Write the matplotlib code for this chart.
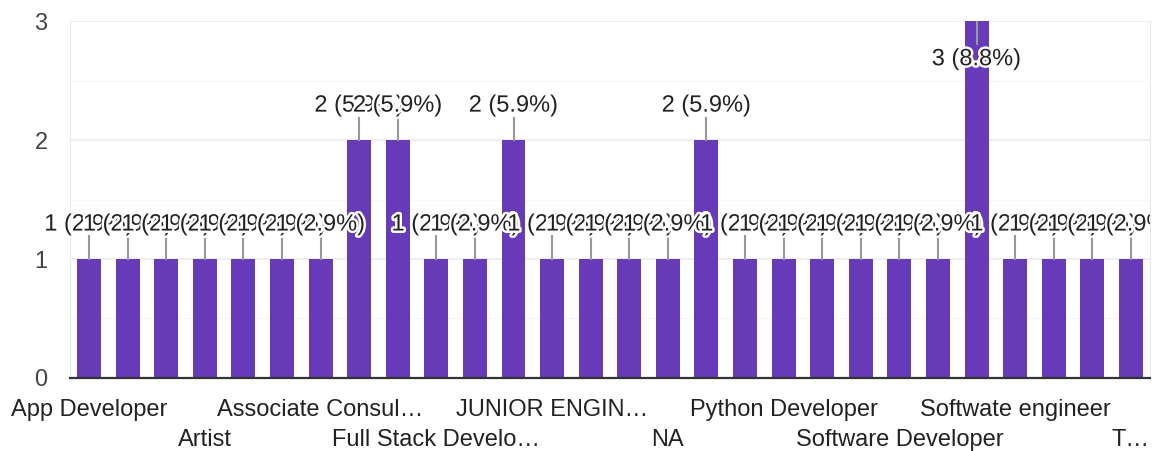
import matplotlib
matplotlib.use("Agg")
import matplotlib.pyplot as plt
import matplotlib.patheffects as pe
from matplotlib.transforms import Bbox, TransformedBbox
import numpy as np

plt.rcParams['font.family'] = ['Liberation Sans', 'DejaVu Sans']

# answers (sorted as in the form summary); only every third name is shown on the axis
categories = [
    "App Developer", "Application Developer", "Architect", "Artist",
    "Assistant Manager", "Assistant Professor", "Associate Consultant",
    "Associate Software Engineer", "Data Analyst", "Full Stack Developer",
    "Graduate Engineer Trainee", "IT Analyst", "JUNIOR ENGINEER",
    "Java Developer", "Manager", "NA", "Programmer Analyst",
    "Project Engineer", "Python Developer", "QA Engineer", "SDE",
    "Software Developer", "Software Engineer", "Software engineer",
    "Softwate engineer", "Student", "System Engineer", "Trainee",
]
counts = [1, 1, 1, 1, 1, 1, 1, 2, 2, 1, 1, 2, 1, 1,
          1, 1, 2, 1, 1, 1, 1, 1, 1, 3, 1, 1, 1, 1]

shown_idx = [0, 3, 6, 9, 12, 15, 18, 21, 24, 27]
shown_labels = ["App Developer", "Artist", "Associate Consul\u2026",
                "Full Stack Develo\u2026", "JUNIOR ENGIN\u2026", "NA",
                "Python Developer", "Software Developer",
                "Softwate engineer", "T\u2026"]

bar_color = "#673ab7"
total = sum(counts)
ymax = 3
fs = 17

fig = plt.figure(figsize=(11.63, 4.51), dpi=100)
ax = fig.add_axes([0.060, 0.162, 0.929, 0.791])

x = np.arange(len(categories))
ax.bar(x, counts, width=0.62, color=bar_color, zorder=2)

ax.set_xlim(-0.5, len(categories) - 0.5)
ax.set_ylim(0, ymax)
ax.set_yticks([0, 1, 2, 3])
ax.set_yticks([0.5, 1.5, 2.5], minor=True)
ax.grid(axis='y', which='major', color='#ebebeb', lw=1.2, zorder=0)
ax.grid(axis='y', which='minor', color='#f6f6f6', lw=1.0, zorder=0)
ax.tick_params(axis='y', which='both', length=0, labelsize=fs,
               labelcolor='#444444', pad=16)

labels = []
for k, (i, lab) in enumerate(zip(shown_idx, shown_labels)):
    labels.append(lab if k % 2 == 0 else "\n" + lab)
ax.set_xticks(shown_idx)
ax.set_xticklabels(labels, fontsize=fs, color='#222222', linespacing=1.5)
ax.tick_params(axis='x', length=0, pad=15)

ax.spines['top'].set_visible(False)
for s in ['left', 'right']:
    ax.spines[s].set_color('#ebebeb')
ax.spines['bottom'].set_color('#333333')
ax.spines['bottom'].set_linewidth(1.6)
ax.spines['bottom'].set_zorder(3)

# labels get cut at the right edge of the plot area, as in the form summary
clip = TransformedBbox(Bbox([[-3, -1], [len(categories) - 0.5, 4]]), ax.transData)
halo = [pe.withStroke(linewidth=3.5, foreground='white')]
for xi, c in zip(x, counts):
    txt = f"{c} ({c / total * 100:.1f}%)"
    if c < ymax:
        ax.plot([xi, xi], [c, c + 0.19], color='#999999', lw=1.5, zorder=3)
        t = ax.text(xi, c + 0.29, txt, ha='center', va='center', fontsize=fs,
                    color='#222222', path_effects=halo, zorder=4)
    else:
        ax.plot([xi, xi], [c, c - 0.19], color='#999999', lw=1.5, zorder=3)
        t = ax.text(xi, c - 0.32, txt, ha='center', va='center', fontsize=fs,
                    color='#222222', path_effects=halo, zorder=4)
    t.set_clip_box(clip)
    t.set_clip_on(True)

plt.savefig("out.png", dpi=100)
